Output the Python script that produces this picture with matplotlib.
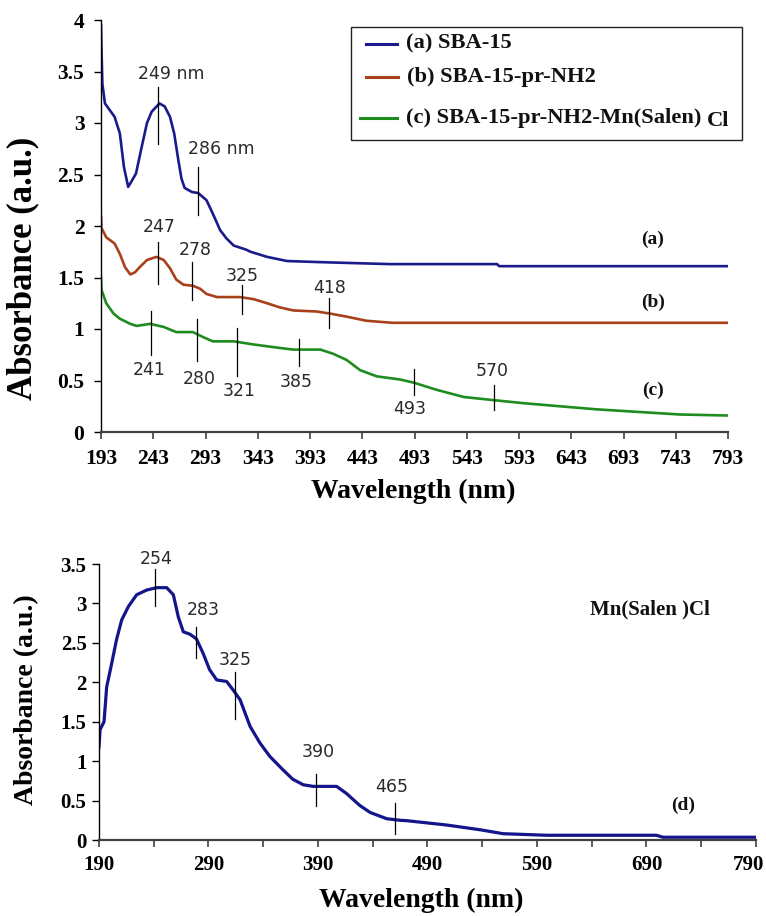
import matplotlib
matplotlib.use("Agg")
import matplotlib.pyplot as plt
import matplotlib.transforms as mtransforms
from matplotlib.lines import Line2D
from matplotlib.patches import Rectangle

# ---- data ----
wl_a = [193, 193.3, 194.3, 196.8, 206, 211, 215, 219, 222, 226.5, 232, 237, 241.5, 249, 254,
        259, 263, 267, 270, 273, 280, 286, 294, 300, 307, 313, 320, 332, 336, 352, 371, 400,
        434, 470, 572, 574, 793]
abs_a = [3.95, 3.80, 3.38, 3.19, 3.06, 2.90, 2.57, 2.38, 2.43, 2.51, 2.77, 3.00, 3.11, 3.19, 3.16,
         3.06, 2.90, 2.64, 2.46, 2.37, 2.33, 2.32, 2.25, 2.12, 1.96, 1.88, 1.81, 1.77, 1.75, 1.70, 1.66, 1.65,
         1.64, 1.63, 1.63, 1.61, 1.61]

wl_b = [193, 193.5, 198, 206, 211, 216, 221, 225.5, 230, 237, 246, 253, 259, 265, 272, 281, 288,
        294, 304, 326, 339, 352, 364, 377, 399, 412, 428, 447, 472, 793]
abs_b = [2.09, 1.98, 1.89, 1.83, 1.73, 1.60, 1.53, 1.55, 1.60, 1.67, 1.70, 1.67, 1.59, 1.48, 1.43, 1.42, 1.39,
         1.34, 1.31, 1.31, 1.29, 1.25, 1.21, 1.18, 1.17, 1.15, 1.12, 1.08, 1.06, 1.06]

wl_c = [193, 193.5, 198, 205, 211, 221, 227, 240, 253, 265, 281, 291, 300, 320, 339, 361, 377,
        403, 415, 428, 441, 457, 479, 492, 514, 540, 568, 597, 632, 667, 715, 747, 793]
abs_c = [1.50, 1.38, 1.25, 1.15, 1.10, 1.05, 1.03, 1.05, 1.02, 0.97, 0.97, 0.92, 0.88, 0.88, 0.85, 0.82, 0.80,
         0.80, 0.76, 0.70, 0.60, 0.54, 0.51, 0.48, 0.41, 0.34, 0.31, 0.28, 0.25, 0.22, 0.19, 0.17, 0.16]

wl_d = [190, 191, 194.6, 197, 201.6, 206, 210.7, 216.8, 224.4, 233.6, 242.7, 251.8, 257.9, 262.4,
        267, 273, 279, 285, 291, 297.5, 306.6, 312.6, 318.8, 328, 337, 346, 358, 367, 376.6, 385.7,
        407, 416, 428, 437.5, 452.7, 465, 471, 507.5, 538, 559, 599, 699, 705, 790]
abs_d = [1.18, 1.40, 1.50, 1.94, 2.24, 2.54, 2.79, 2.96, 3.11, 3.17, 3.20, 3.20, 3.11, 2.83,
         2.64, 2.61, 2.55, 2.37, 2.16, 2.03, 2.01, 1.90, 1.78, 1.44, 1.23, 1.06, 0.89, 0.77, 0.70, 0.68,
         0.68, 0.59, 0.44, 0.35, 0.27, 0.25, 0.245, 0.19, 0.13, 0.08, 0.06, 0.06, 0.035, 0.035]

# peak markers: (label, marker x, marker y low, marker y high, label x, label y, align)
peaks_top = [
    ("249 nm", 248, 2.80, 3.35, 228, 3.48, "left"),
    ("286 nm", 286, 2.11, 2.57, 276, 2.75, "left"),
    ("247", 248, 1.44, 1.84, 249, 1.99, "center"),
    ("278", 280, 1.28, 1.65, 283.5, 1.77, "center"),
    ("325", 327.5, 1.15, 1.43, 328, 1.51, "center"),
    ("418", 411.5, 1.01, 1.30, 411.5, 1.40, "center"),
    ("241", 241, 0.75, 1.17, 239, 0.60, "center"),
    ("280", 284.5, 0.69, 1.10, 287, 0.51, "center"),
    ("321", 323.4, 0.54, 1.01, 325, 0.40, "center"),
    ("385", 382.5, 0.64, 0.90, 380, 0.49, "center"),
    ("493", 492.5, 0.36, 0.61, 488.7, 0.22, "center"),
    ("570", 569.4, 0.21, 0.46, 567, 0.59, "center"),
]
peaks_bot = [
    ("254", 241, 2.97, 3.44, 242, 3.56),
    ("283", 278.3, 2.31, 2.70, 285, 2.92),
    ("325", 314.2, 1.53, 2.13, 314, 2.28),
    ("390", 388, 0.43, 0.84, 390, 1.12),
    ("465", 460.3, 0.08, 0.47, 457.6, 0.67),
]

top_xticks = list(range(193, 794, 50))
top_yticks = [0, 0.5, 1, 1.5, 2, 2.5, 3, 3.5, 4]
top_ylabels = ["0", "0.5", "1", "1.5", "2", "2.5", "3", "3.5", "4"]
bot_xticks = list(range(190, 791, 50))
bot_xlabels = [str(v) if (v - 190) % 100 == 0 else "" for v in bot_xticks]
bot_yticks = [0, 0.5, 1, 1.5, 2, 2.5, 3, 3.5]
bot_ylabels = ["0", "0.5", "1", "1.5", "2", "2.5", "3", "3.5"]

legend_labels = ["(a) SBA-15", "(b) SBA-15-pr-NH2", "(c) SBA-15-pr-NH2-Mn(Salen)"]

C_A = "#1a1a8c"
C_B = "#a8401a"
C_C = "#1e8c1e"
C_D = "#14148c"

W, H = 766, 916
SERIF = "Liberation Serif"
SANS = "DejaVu Sans"
ANN_COLOR = "#2a2a2a"


def fx(px):
    return px / W


def fy(py):
    return 1 - py / H


def style_axes(ax, xticks, xlabels, yticks, ylabels, xpad, ypad, size):
    for s in ["top", "right"]:
        ax.spines[s].set_visible(False)
    ax.spines["left"].set_linewidth(1.0)
    ax.spines["left"].set_color("black")
    ax.spines["bottom"].set_linewidth(1.6)
    ax.spines["bottom"].set_color("#404040")
    ax.set_xticks(xticks)
    ax.set_xticklabels(xlabels)
    ax.set_yticks(yticks)
    ax.set_yticklabels(ylabels)
    ax.tick_params(axis="x", direction="out", length=5, width=1.2, color="#404040", pad=xpad)
    ax.tick_params(axis="y", direction="out", length=5, width=1.0, color="black", pad=ypad)
    for lab in ax.get_xticklabels() + ax.get_yticklabels():
        lab.set_fontfamily(SERIF)
        lab.set_fontweight("bold")
        lab.set_fontsize(size)


fig = plt.figure(figsize=(W / 100, H / 100), dpi=100)

# ---- top panel ----
ax1 = fig.add_axes([fx(101), fy(432), fx(728) - fx(101), fy(20) - fy(432)])
ax1.plot(wl_a, abs_a, color=C_A, lw=1.9)
ax1.plot(wl_b, abs_b, color=C_B, lw=1.9)
ax1.plot(wl_c, abs_c, color=C_C, lw=1.9)
ax1.set_xlim(193, 793)
ax1.set_ylim(0, 4)
style_axes(ax1, top_xticks, [str(v) for v in top_xticks], top_yticks, top_ylabels, 7.5, 7, 15.5)

for lab, xm, y0, y1, xt, yt, ha in peaks_top:
    ax1.plot([xm, xm], [y0, y1], color="black", lw=0.9)
    ax1.text(xt, yt, lab, ha=ha, va="center", fontsize=12.5, family=SANS, color=ANN_COLOR)

for lab, y in zip(["(a)", "(b)", "(c)"], [1.87, 1.26, 0.40]):
    ax1.text(721, y, lab, ha="center", va="center", fontsize=14, family=SERIF,
             fontweight="bold", color="#111111")

# legend box drawn in figure pixels
fig.patches.append(Rectangle((fx(351), fy(140)), fx(742) - fx(351), fy(27) - fy(140),
                             transform=fig.transFigure, fill=False, edgecolor="#222222", lw=1.0))
leg_rows = [(366, 397, 43.5, 406, C_A), (366, 398, 77, 407, C_B), (360, 397, 118, 406, C_C)]
for (x0, x1, yy, xt, col), lab in zip(leg_rows, legend_labels):
    fig.lines.append(Line2D([fx(x0), fx(x1)], [fy(yy), fy(yy)], transform=fig.transFigure,
                            color=col, lw=2.2))
    fig.text(fx(xt), fy(yy), lab, ha="left", va="center", fontsize=16.2, family=SERIF,
             fontweight="bold", color="#111111")
fig.text(fx(707), fy(121), "Cl", ha="left", va="center", fontsize=16.2, family=SERIF,
         fontweight="bold", color="#111111")

fig.text(fx(413), fy(491), "Wavelength (nm)", ha="center", va="center", fontsize=20,
         family=SERIF, fontweight="bold")
fig.text(fx(23), fy(268), "Absorbance (a.u.)", ha="center", va="center", rotation=90,
         fontsize=25, family=SERIF, fontweight="bold")

# ---- bottom panel ----
ax2 = fig.add_axes([fx(99), fy(840), fx(756) - fx(99), fy(564) - fy(840)])
ax2.plot(wl_d, abs_d, color=C_D, lw=2.3)
ax2.set_xlim(190, 790)
ax2.set_ylim(0, 3.5)
style_axes(ax2, bot_xticks, bot_xlabels, bot_yticks, bot_ylabels, 6, 4, 15)
last = ax2.get_xticklabels()[-1]
last.set_transform(last.get_transform() + mtransforms.ScaledTranslation(-8 / 100, 0, fig.dpi_scale_trans))

for lab, xm, y0, y1, xt, yt in peaks_bot:
    ax2.plot([xm, xm], [y0, y1], color="black", lw=0.9)
    ax2.text(xt, yt, lab, ha="center", va="center", fontsize=12.5, family=SANS, color=ANN_COLOR)

ax2.text(693, 2.92, "Mn(Salen )Cl", ha="center", va="center", fontsize=15, family=SERIF,
         fontweight="bold", color="#111111")
ax2.text(723, 0.44, "(d)", ha="center", va="center", fontsize=14, family=SERIF,
         fontweight="bold", color="#111111")

fig.text(fx(421), fy(900), "Wavelength (nm)", ha="center", va="center", fontsize=20,
         family=SERIF, fontweight="bold")
fig.text(fx(27), fy(700), "Absorbance (a.u.)", ha="center", va="center", rotation=90,
         fontsize=20, family=SERIF, fontweight="bold")

fig.savefig("out.png", dpi=100)
